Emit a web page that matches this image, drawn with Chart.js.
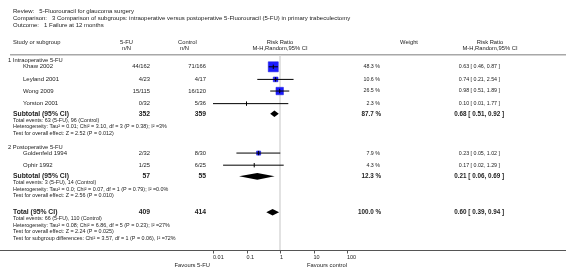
<!DOCTYPE html>
<html>
<head>
<meta charset="utf-8">
<script src="https://cdn.jsdelivr.net/npm/chart.js@4.4.1/dist/chart.umd.min.js"></script>
<style>
  html, body { margin: 0; padding: 0; background: #fff; }
  canvas { display: block; }
</style>
</head>
<body>
<canvas id="forest" width="566" height="272"></canvas>
<script>
// titles
const titleLines = [
  "Review:   5-Fluorouracil for glaucoma surgery",
  "Comparison:   3 Comparison of subgroups: intraoperative versus postoperative 5-Fluorouracil (5-FU) in primary trabeculectomy",
  "Outcome:   1 Failure at 12 months"
];

// studies
const groupTitles = ["1 Intraoperative 5-FU", "2 Postoperative 5-FU"];
const studies = ["Khaw 2002", "Leyland 2001", "Wong 2009", "Yorston 2001", "Goldenfeld 1994", "Ophir 1992"];
const fuEvents = [44, 4, 15, 0, 2, 1];
const fuTotal = [162, 23, 115, 32, 32, 25];
const ctrlEvents = [71, 4, 16, 5, 8, 6];
const ctrlTotal = [166, 17, 120, 36, 30, 25];
const weights = [48.3, 10.6, 26.5, 2.3, 7.9, 4.3];
const rr = [0.63, 0.74, 0.98, 0.10, 0.23, 0.17];
const rrLow = [0.46, 0.21, 0.51, 0.01, 0.05, 0.02];
const rrHigh = [0.87, 2.54, 1.89, 1.77, 1.02, 1.29];

// subtotals and total
const pooledLabels = ["Subtotal (95% CI)", "Subtotal (95% CI)", "Total (95% CI)"];
const pooledFuN = [352, 57, 409];
const pooledCtrlN = [359, 55, 414];
const pooledWeight = [87.7, 12.3, 100.0];
const pooledRR = [0.68, 0.21, 0.60];
const pooledLow = [0.51, 0.06, 0.39];
const pooledHigh = [0.92, 0.69, 0.94];
const pooledNotes = [
  ["Total events: 63 (5-FU), 96 (Control)",
   "Heterogeneity: Tau\u00b2 = 0.01; Chi\u00b2 = 3.10, df = 3 (P = 0.38); I\u00b2 =3%",
   "Test for overall effect: Z = 2.52 (P = 0.012)"],
  ["Total events: 3 (5-FU), 14 (Control)",
   "Heterogeneity: Tau\u00b2 = 0.0; Chi\u00b2 = 0.07, df = 1 (P = 0.79); I\u00b2 =0.0%",
   "Test for overall effect: Z = 2.56 (P = 0.010)"],
  ["Total events: 66 (5-FU), 110 (Control)",
   "Heterogeneity: Tau\u00b2 = 0.08; Chi\u00b2 = 6.86, df = 5 (P = 0.23); I\u00b2 =27%",
   "Test for overall effect: Z = 2.24 (P = 0.025)",
   "Test for subgroup differences: Chi\u00b2 = 3.57, df = 1 (P = 0.06), I\u00b2 =72%"]
];

// axis
const axisTicks = [0.01, 0.1, 1, 10, 100];
const axisTickLabels = ["0.01", "0.1", "1", "10", "100"];
const favoursLeft = "Favours 5-FU";
const favoursRight = "Favours control";

// vertical layout (y scale units, top = 0)
const titleY = [3.5, 11, 18.5];
const headY = [35.5, 42.5];
const RULE_Y = 48.5;
const groupHeadY = [54, 144];
const studyY = [61, 74, 86, 99, 150, 162.5];
const pooledY = [109.5, 174, 211];
const NOTE_STEP = 6.8;
const AXIS_Y = 250;

const FONT = '"Liberation Sans", Arial, sans-serif';
const TEXT = "#222";

function fmt2(v) { return v.toFixed(2); }
function ciText(m, l, h) { return fmt2(m) + " [ " + fmt2(l) + ", " + fmt2(h) + " ]"; }

function put(ctx, s, x, y, size, align, bold) {
  ctx.font = (bold ? "bold " : "") + size + "px " + FONT;
  ctx.textAlign = align || "left";
  ctx.textBaseline = "middle";
  ctx.fillStyle = TEXT;
  ctx.fillText(s, x, y);
}

const backdrop = {
  id: "backdrop",
  beforeDatasetsDraw(chart) {
    const ctx = chart.ctx;
    const xs = chart.scales.x, ys = chart.scales.y;
    const x1 = xs.getPixelForValue(1);
    ctx.save();
    // header rule
    ctx.strokeStyle = "#a8a8a8";
    ctx.lineWidth = 1.5;
    ctx.beginPath();
    ctx.moveTo(10, ys.getPixelForValue(RULE_Y));
    ctx.lineTo(chart.width, ys.getPixelForValue(RULE_Y));
    ctx.stroke();
    // line of no effect
    ctx.strokeStyle = "#e2e2e2";
    ctx.lineWidth = 2;
    ctx.beginPath();
    ctx.moveTo(x1, ys.getPixelForValue(RULE_Y + 1));
    ctx.lineTo(x1, ys.getPixelForValue(AXIS_Y));
    ctx.stroke();
    // axis
    ctx.strokeStyle = "#555";
    ctx.lineWidth = 1;
    const ay = Math.round(ys.getPixelForValue(AXIS_Y)) + 0.5;
    ctx.beginPath();
    ctx.moveTo(0, ay);
    ctx.lineTo(chart.width, ay);
    axisTicks.forEach(t => {
      const px = Math.round(xs.getPixelForValue(t)) + 0.5;
      ctx.moveTo(px, ay);
      ctx.lineTo(px, ay + 3);
    });
    ctx.stroke();
    ctx.restore();
  },
  afterDatasetsDraw(chart) {
    const ctx = chart.ctx;
    const xs = chart.scales.x, ys = chart.scales.y;
    ctx.save();
    // diamonds
    ctx.fillStyle = "#000";
    pooledRR.forEach((m, i) => {
      const y = ys.getPixelForValue(pooledY[i]);
      ctx.beginPath();
      ctx.moveTo(xs.getPixelForValue(pooledLow[i]), y);
      ctx.lineTo(xs.getPixelForValue(m), y - 3.3);
      ctx.lineTo(xs.getPixelForValue(pooledHigh[i]), y);
      ctx.lineTo(xs.getPixelForValue(m), y + 3.3);
      ctx.closePath();
      ctx.fill();
    });

    // titles
    titleLines.forEach((s, i) => put(ctx, s, 13, ys.getPixelForValue(titleY[i]), 6));

    // column headers
    const h1 = ys.getPixelForValue(headY[0]), h2 = ys.getPixelForValue(headY[1]);
    put(ctx, "Study or subgroup", 13, h1, 5.8);
    put(ctx, "5-FU", 120, h1, 5.8);
    put(ctx, "n/N", 122, h2, 5.8);
    put(ctx, "Control", 178, h1, 5.8);
    put(ctx, "n/N", 180, h2, 5.8);
    const x1 = xs.getPixelForValue(1);
    put(ctx, "Risk Ratio", x1, h1, 5.8, "center");
    put(ctx, "M-H,Random,95% CI", x1, h2, 5.8, "center");
    put(ctx, "Weight", 409, h1, 5.8, "center");
    put(ctx, "Risk Ratio", 490, h1, 5.8, "center");
    put(ctx, "M-H,Random,95% CI", 490, h2, 5.8, "center");

    // groups
    groupTitles.forEach((g, i) => put(ctx, g, 8, ys.getPixelForValue(groupHeadY[i]), 5.8));

    // study rows
    studies.forEach((s, i) => {
      const y = ys.getPixelForValue(studyY[i]);
      put(ctx, s, 23, y, 6);
      put(ctx, fuEvents[i] + "/" + fuTotal[i], 150, y, 5.8, "right");
      put(ctx, ctrlEvents[i] + "/" + ctrlTotal[i], 206, y, 5.8, "right");
      put(ctx, weights[i].toFixed(1) + " %", 380, y, 5.3, "right");
      put(ctx, ciText(rr[i], rrLow[i], rrHigh[i]), 500, y, 5.3, "right");
    });

    // pooled rows
    pooledLabels.forEach((s, i) => {
      const y = ys.getPixelForValue(pooledY[i]);
      put(ctx, s, 13, y, 6.8, "left", true);
      put(ctx, String(pooledFuN[i]), 150, y, 6.8, "right", true);
      put(ctx, String(pooledCtrlN[i]), 206, y, 6.8, "right", true);
      put(ctx, pooledWeight[i].toFixed(1) + " %", 381, y, 6.3, "right", true);
      put(ctx, ciText(pooledRR[i], pooledLow[i], pooledHigh[i]), 504, y, 6.3, "right", true);
      pooledNotes[i].forEach((n, k) => {
        put(ctx, n, 13, ys.getPixelForValue(pooledY[i] + 6.5 + k * NOTE_STEP), 5.4);
      });
    });

    // axis labels
    const ly = ys.getPixelForValue(AXIS_Y + 7.5);
    axisTicks.forEach((t, i) => put(ctx, axisTickLabels[i], xs.getPixelForValue(t), ly, 5.5));
    const fy = ys.getPixelForValue(AXIS_Y + 15.5);
    put(ctx, favoursLeft, xs.getPixelForValue(0.01) - 3, fy, 5.8, "right");
    put(ctx, favoursRight, xs.getPixelForValue(100), fy, 5.8, "right");
    ctx.restore();
  }
};

const ciSets = studies.map((s, i) => ({
  type: "line",
  label: s,
  data: [{ x: rrLow[i], y: studyY[i] }, { x: rrHigh[i], y: studyY[i] }],
  borderColor: "#000",
  borderWidth: 1,
  pointRadius: 0,
  clip: false
}));

// square side grows with sqrt(weight); very small ones stay hidden
const squareRadius = weights.map(w => {
  const side = 10 * Math.sqrt(w / 48.3);
  return side < 3.5 ? 0 : side / 2 / Math.SQRT1_2;
});

new Chart(document.getElementById("forest"), {
  type: "scatter",
  data: {
    datasets: [
      ...ciSets,
      {
        label: "estimate",
        data: rr.map((v, i) => ({ x: v, y: studyY[i] })),
        pointStyle: "line",
        rotation: 90,
        pointRadius: 2.2,
        borderColor: "#000",
        borderWidth: 1,
        clip: false
      },
      {
        label: "weight",
        data: rr.map((v, i) => ({ x: v, y: studyY[i] })),
        pointStyle: "rect",
        pointRadius: squareRadius,
        backgroundColor: "#1a1aff",
        borderColor: "#2222e0",
        borderWidth: 0.6,
        clip: false
      }
    ]
  },
  options: {
    responsive: false,
    animation: false,
    events: [],
    layout: { padding: { left: 213, right: 219, top: 0, bottom: 272 - AXIS_Y } },
    plugins: { legend: { display: false }, tooltip: { enabled: false } },
    scales: {
      x: { type: "logarithmic", min: 0.01, max: 100, display: false },
      y: { type: "linear", min: 0, max: AXIS_Y, reverse: true, display: false }
    }
  },
  plugins: [backdrop]
});
</script>
</body>
</html>
